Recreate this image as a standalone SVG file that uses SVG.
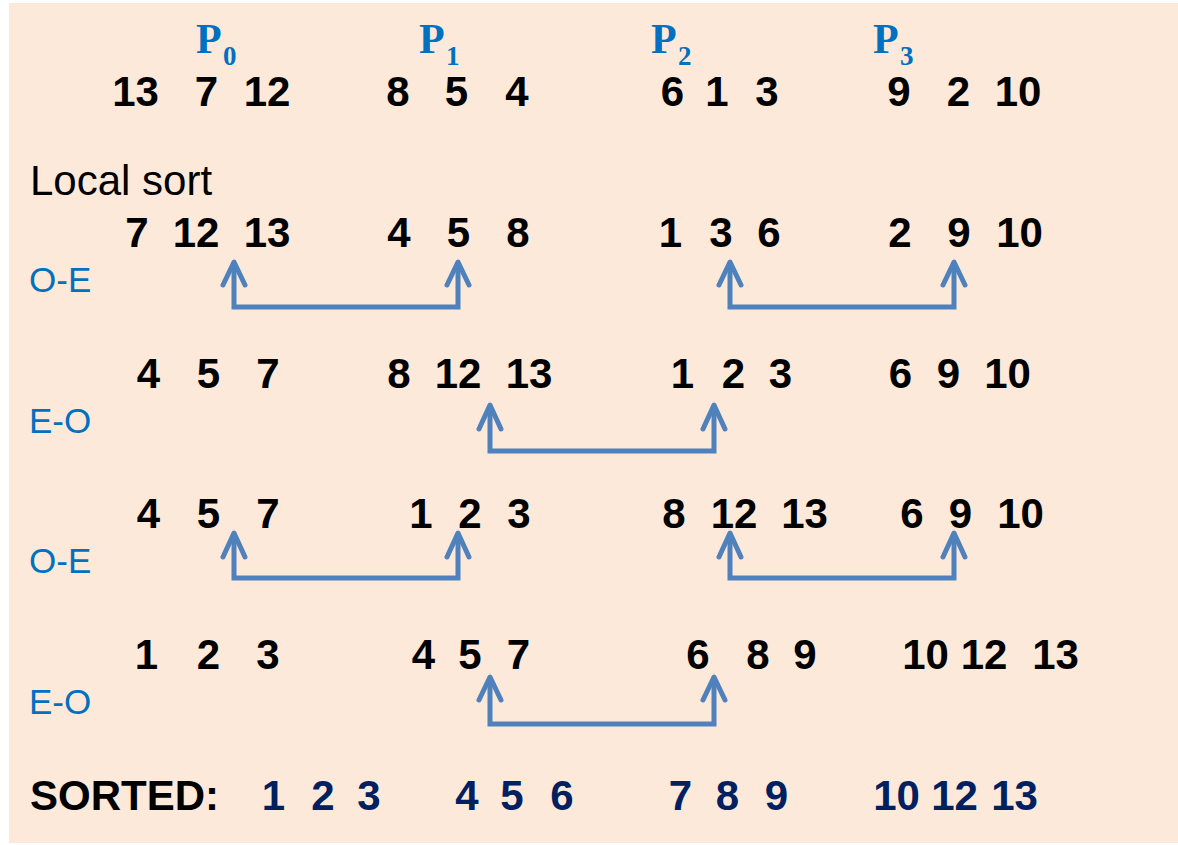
<svg xmlns="http://www.w3.org/2000/svg" width="1178" height="845" viewBox="0 0 1178 845">
<style>
.num{font-family:"Liberation Sans",Arial,sans-serif;font-weight:bold;font-size:42px;fill:#000;text-anchor:middle}
.srt{font-family:"Liberation Sans",Arial,sans-serif;font-weight:bold;font-size:42px;fill:#002060;text-anchor:middle}
.plab{font-family:"Liberation Serif","Times New Roman",serif;font-weight:bold;font-size:42px;fill:#0070C0}
.sub{font-size:27px}
.phase{font-family:"Liberation Sans",Arial,sans-serif;font-size:35px;fill:#0070C0}
.lbl{font-family:"Liberation Sans",Arial,sans-serif;font-size:42px;fill:#000}
.conn{fill:none;stroke:#4F81BD;stroke-width:5;stroke-linejoin:miter}
.head{fill:none;stroke:#4F81BD;stroke-width:5;stroke-linecap:round;stroke-linejoin:round}
</style>
<rect x="9" y="3" width="1169" height="840" fill="#FDE9D9"/>

<g id="processors">
<text class="plab" x="196" y="53">P<tspan class="sub" x="223" y="65">0</tspan></text>
<text class="plab" x="419" y="53">P<tspan class="sub" x="446" y="65">1</tspan></text>
<text class="plab" x="651" y="53">P<tspan class="sub" x="678" y="65">2</tspan></text>
<text class="plab" x="873" y="53">P<tspan class="sub" x="900" y="65">3</tspan></text>
</g>

<g id="row-initial">
<text class="num" x="135.5" y="106">13</text><text class="num" x="206.5" y="106">7</text><text class="num" x="267" y="106">12</text>
<text class="num" x="398" y="106">8</text><text class="num" x="456.5" y="106">5</text><text class="num" x="517" y="106">4</text>
<text class="num" x="672.5" y="106">6</text><text class="num" x="717" y="106">1</text><text class="num" x="767" y="106">3</text>
<text class="num" x="899" y="106">9</text><text class="num" x="958.5" y="106">2</text><text class="num" x="1018" y="106">10</text>
</g>

<g id="label-local">
<text class="lbl" x="30" y="195">Local sort</text>
</g>

<g id="row-local">
<text class="num" x="137" y="247">7</text><text class="num" x="196" y="247">12</text><text class="num" x="267" y="247">13</text>
<text class="num" x="399" y="247">4</text><text class="num" x="458.5" y="247">5</text><text class="num" x="518" y="247">8</text>
<text class="num" x="670.5" y="247">1</text><text class="num" x="721" y="247">3</text><text class="num" x="769" y="247">6</text>
<text class="num" x="900" y="247">2</text><text class="num" x="959" y="247">9</text><text class="num" x="1019.5" y="247">10</text>
</g>

<g id="row-3">
<text class="num" x="148.5" y="388">4</text><text class="num" x="208.5" y="388">5</text><text class="num" x="268" y="388">7</text>
<text class="num" x="399" y="388">8</text><text class="num" x="458" y="388">12</text><text class="num" x="529" y="388">13</text>
<text class="num" x="682.5" y="388">1</text><text class="num" x="733.5" y="388">2</text><text class="num" x="780.5" y="388">3</text>
<text class="num" x="900.5" y="388">6</text><text class="num" x="948.5" y="388">9</text><text class="num" x="1007.5" y="388">10</text>
</g>

<g id="row-4">
<text class="num" x="148.5" y="528">4</text><text class="num" x="208.5" y="528">5</text><text class="num" x="268" y="528">7</text>
<text class="num" x="421" y="528">1</text><text class="num" x="470" y="528">2</text><text class="num" x="519" y="528">3</text>
<text class="num" x="674" y="528">8</text><text class="num" x="734" y="528">12</text><text class="num" x="804.5" y="528">13</text>
<text class="num" x="912" y="528">6</text><text class="num" x="960.5" y="528">9</text><text class="num" x="1020.5" y="528">10</text>
</g>

<g id="row-5">
<text class="num" x="146.5" y="669">1</text><text class="num" x="208.5" y="669">2</text><text class="num" x="268" y="669">3</text>
<text class="num" x="423.5" y="669">4</text><text class="num" x="470" y="669">5</text><text class="num" x="518.5" y="669">7</text>
<text class="num" x="698" y="669">6</text><text class="num" x="758" y="669">8</text><text class="num" x="805" y="669">9</text>
<text class="num" x="925.5" y="669">10</text><text class="num" x="984" y="669">12</text><text class="num" x="1055.5" y="669">13</text>
</g>

<g id="phase-labels">
<text class="phase" x="29" y="292">O-E</text>
<text class="phase" x="29" y="433">E-O</text>
<text class="phase" x="29" y="573">O-E</text>
<text class="phase" x="29" y="714">E-O</text>
</g>

<g id="row-sorted">
<text class="lbl" x="30" y="810" font-weight="bold">SORTED:</text>
<text class="srt" x="273.5" y="810">1</text><text class="srt" x="323" y="810">2</text><text class="srt" x="369" y="810">3</text>
<text class="srt" x="467" y="810">4</text><text class="srt" x="512" y="810">5</text><text class="srt" x="562" y="810">6</text>
<text class="srt" x="680.5" y="810">7</text><text class="srt" x="727.5" y="810">8</text><text class="srt" x="776.5" y="810">9</text>
<text class="srt" x="896.5" y="810">10</text><text class="srt" x="954.5" y="810">12</text><text class="srt" x="1014.5" y="810">13</text>
</g>

<g id="connectors">
<path class="conn" d="M234 265 V307 H458 V265"/>
<path class="head" d="M223 285 L234 262 L245 285 M447 285 L458 262 L469 285"/>
<path class="conn" d="M730 265 V307 H954 V265"/>
<path class="head" d="M719 285 L730 262 L741 285 M943 285 L954 262 L965 285"/>
<path class="conn" d="M490 408 V451 H714 V408"/>
<path class="head" d="M479 429 L490 405 L501 429 M703 429 L714 405 L725 429"/>
<path class="conn" d="M234 536 V578 H458 V536"/>
<path class="head" d="M223 557 L234 533 L245 557 M447 557 L458 533 L469 557"/>
<path class="conn" d="M730 536 V578 H954 V536"/>
<path class="head" d="M719 557 L730 533 L741 557 M943 557 L954 533 L965 557"/>
<path class="conn" d="M490 680 V724 H714 V680"/>
<path class="head" d="M479 700 L490 677 L501 700 M703 700 L714 677 L725 700"/>
</g>
</svg>
